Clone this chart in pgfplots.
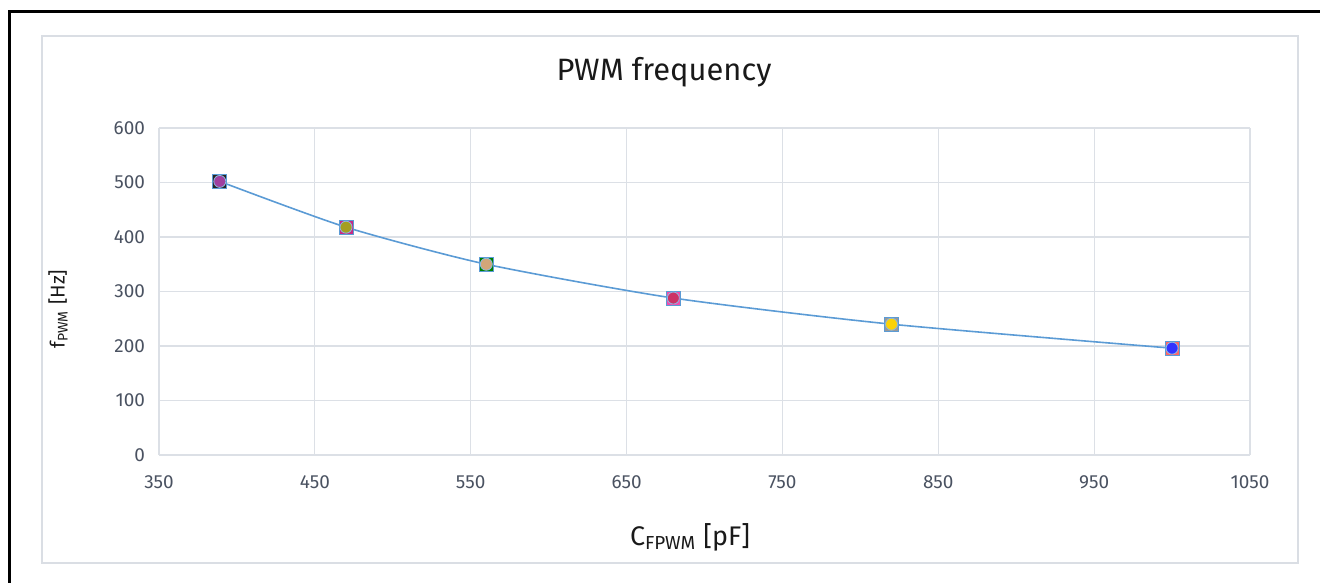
\documentclass[border=0pt]{standalone}
\usepackage{fontspec}
\setmainfont{Fira Sans}
\usepackage{pgfplots}
\pgfplotsset{compat=1.18}
\definecolor{gridc}{HTML}{DCE0E6}
\definecolor{boxc}{HTML}{DADEE4}
\definecolor{tickc}{HTML}{4A5261}
\definecolor{linec}{HTML}{5B9BD5}
\begin{document}
\begin{tikzpicture}
\path[use as bounding box] (0,0) rectangle (660bp,-291.5bp);
% outer black frame (cropped)
\draw[black, line width=1.6bp] (4.75bp,-291.5bp) -- (4.75bp,-5.75bp) -- (660bp,-5.75bp);
% inner chart area frame
\draw[boxc, line width=0.6bp] (21bp,-18bp) rectangle (649bp,-281.5bp);
\begin{axis}[
  at={(79.5bp,-227.5bp)}, anchor=south west,
  scale only axis, width=545.5bp, height=163.5bp,
  xmin=350, xmax=1050, ymin=0, ymax=600,
  xtick={350,450,...,1050}, ytick={0,100,...,600},
  axis line style={draw=none},
  major tick length=0pt,
  grid=major,
  grid style={gridc, line width=0.6bp},
  /pgf/number format/assume math mode=true,
  /pgf/number format/1000 sep={},
  tick label style={font=\fontsize{9.5}{11}\selectfont, text=tickc},
  xticklabel style={yshift=-7bp},
  yticklabel style={xshift=-3.5bp},
  clip=false,
]
\addplot[linec, line width=0.8bp, smooth, tension=0.4] coordinates {
  (389,502) (470,418) (560,350) (680,288) (820,240) (1000,196)};
% overlaid marker series
\addplot[only marks, mark=square*, mark size=3.5bp, mark options={draw=linec, fill=black!85}] coordinates {(389,502)};
\addplot[only marks, mark=square*, mark size=3.5bp, mark options={draw=linec, fill=magenta!80!black}] coordinates {(470,418)};
\addplot[only marks, mark=square*, mark size=3.5bp, mark options={draw=linec, fill=green!50!black}] coordinates {(560,350)};
\addplot[only marks, mark=square*, mark size=3.5bp, mark options={draw=linec, fill=magenta!70}] coordinates {(680,288)};
\addplot[only marks, mark=square*, mark size=3.5bp, mark options={draw=linec, fill=gray!80}] coordinates {(820,240)};
\addplot[only marks, mark=square*, mark size=3.5bp, mark options={draw=linec, fill=red!60}] coordinates {(1000,196)};
\addplot[only marks, mark=*, mark size=3bp, mark options={draw=linec!70, fill=violet!75}] coordinates {(389,502)};
\addplot[only marks, mark=*, mark size=3bp, mark options={draw=linec!70, fill=olive!80}] coordinates {(470,418)};
\addplot[only marks, mark=*, mark size=3bp, mark options={draw=linec!70, fill=brown!70}] coordinates {(560,350)};
\addplot[only marks, mark=*, mark size=3bp, mark options={draw=linec!70, fill=purple!80}] coordinates {(680,288)};
\addplot[only marks, mark=*, mark size=3bp, mark options={draw=linec!70, fill=yellow!70!orange}] coordinates {(820,240)};
\addplot[only marks, mark=*, mark size=3bp, mark options={draw=linec!70, fill=blue!80}] coordinates {(1000,196)};
\end{axis}
\node[font=\fontsize{15.5}{18}\selectfont, text=black!90] at (332bp,-36bp) {PWM frequency};
\node[font=\fontsize{13.5}{16}\selectfont, text=black!90] at (345bp,-268.5bp) {C\textsubscript{FPWM} [pF]};
\node[font=\fontsize{10}{12}\selectfont, text=black!90, rotate=90] at (29bp,-154.5bp) {f\textsubscript{PWM} [Hz]};
\end{tikzpicture}
\end{document}
